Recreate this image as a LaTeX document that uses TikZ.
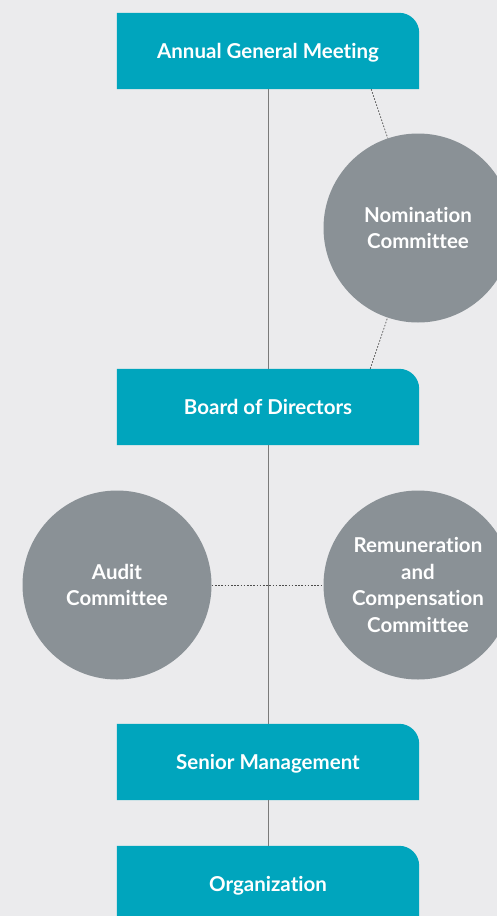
\documentclass[tikz,border=0pt]{standalone}
\usepackage{fontspec}
\setmainfont{Lato}[Ligatures=NoCommon]
\usepackage{tikz}
\usetikzlibrary{backgrounds}

\definecolor{boxteal}{HTML}{00A5BD}
\definecolor{circgrey}{HTML}{8A9196}
\definecolor{pagegrey}{HTML}{EBEBED}
\definecolor{linegrey}{HTML}{7A7A7A}

\begin{document}
\begin{tikzpicture}[x=1pt, y=-1pt,
    box/.style={minimum width=302pt, minimum height=76pt, text depth=0pt, text=white, font=\fontsize{20.5}{24}\selectfont\bfseries},
    committee/.style={circle, fill=circgrey, minimum size=189pt, inner sep=0pt, text=white, align=center, font=\fontsize{20.5}{26.5}\selectfont\bfseries},
    solid line/.style={draw=linegrey, line width=1pt},
    dots/.style={draw=black!70, line width=0.7pt, dash pattern=on 1.6pt off 1.6pt}]
    \useasboundingbox (0,0) rectangle (497,916);

    \node[box] (agm) at (268,51)  {Annual General Meeting};
    \node[box] (bod) at (268,407) {Board of Directors};
    \node[box] (sm)  at (268,762) {Senior Management};
    \node[box] (org) at (268,884) {Organization};

    \node[committee] (nom)   at (418,228) {Nomination\\Committee};
    \node[committee] (audit) at (117,585) {Audit\\Committee};
    \node[committee] (rem)   at (418,585) {Remuneration\\and\\Compensation\\Committee};

    % page and boxes with one rounded corner
    \begin{scope}[on background layer]
      \fill[pagegrey] (0,0) rectangle (497,916);
      \foreach \n in {agm,bod,sm,org}
        \fill[boxteal] (\n.south west) -- (\n.north west) [rounded corners=20pt] -- (\n.north east) [sharp corners] -- (\n.south east) -- cycle;
    \end{scope}

    \draw[dots] ([xshift=-48pt]agm.south east) -- (nom);
    \draw[dots] ([xshift=-49pt]bod.north east) -- (nom);
    \draw[dots] (audit) -- (rem);

    \draw[solid line] (agm) -- (bod);
    \draw[solid line] (bod) -- (sm);
    \draw[solid line] (sm) -- (org);
  \end{tikzpicture}
\end{document}
